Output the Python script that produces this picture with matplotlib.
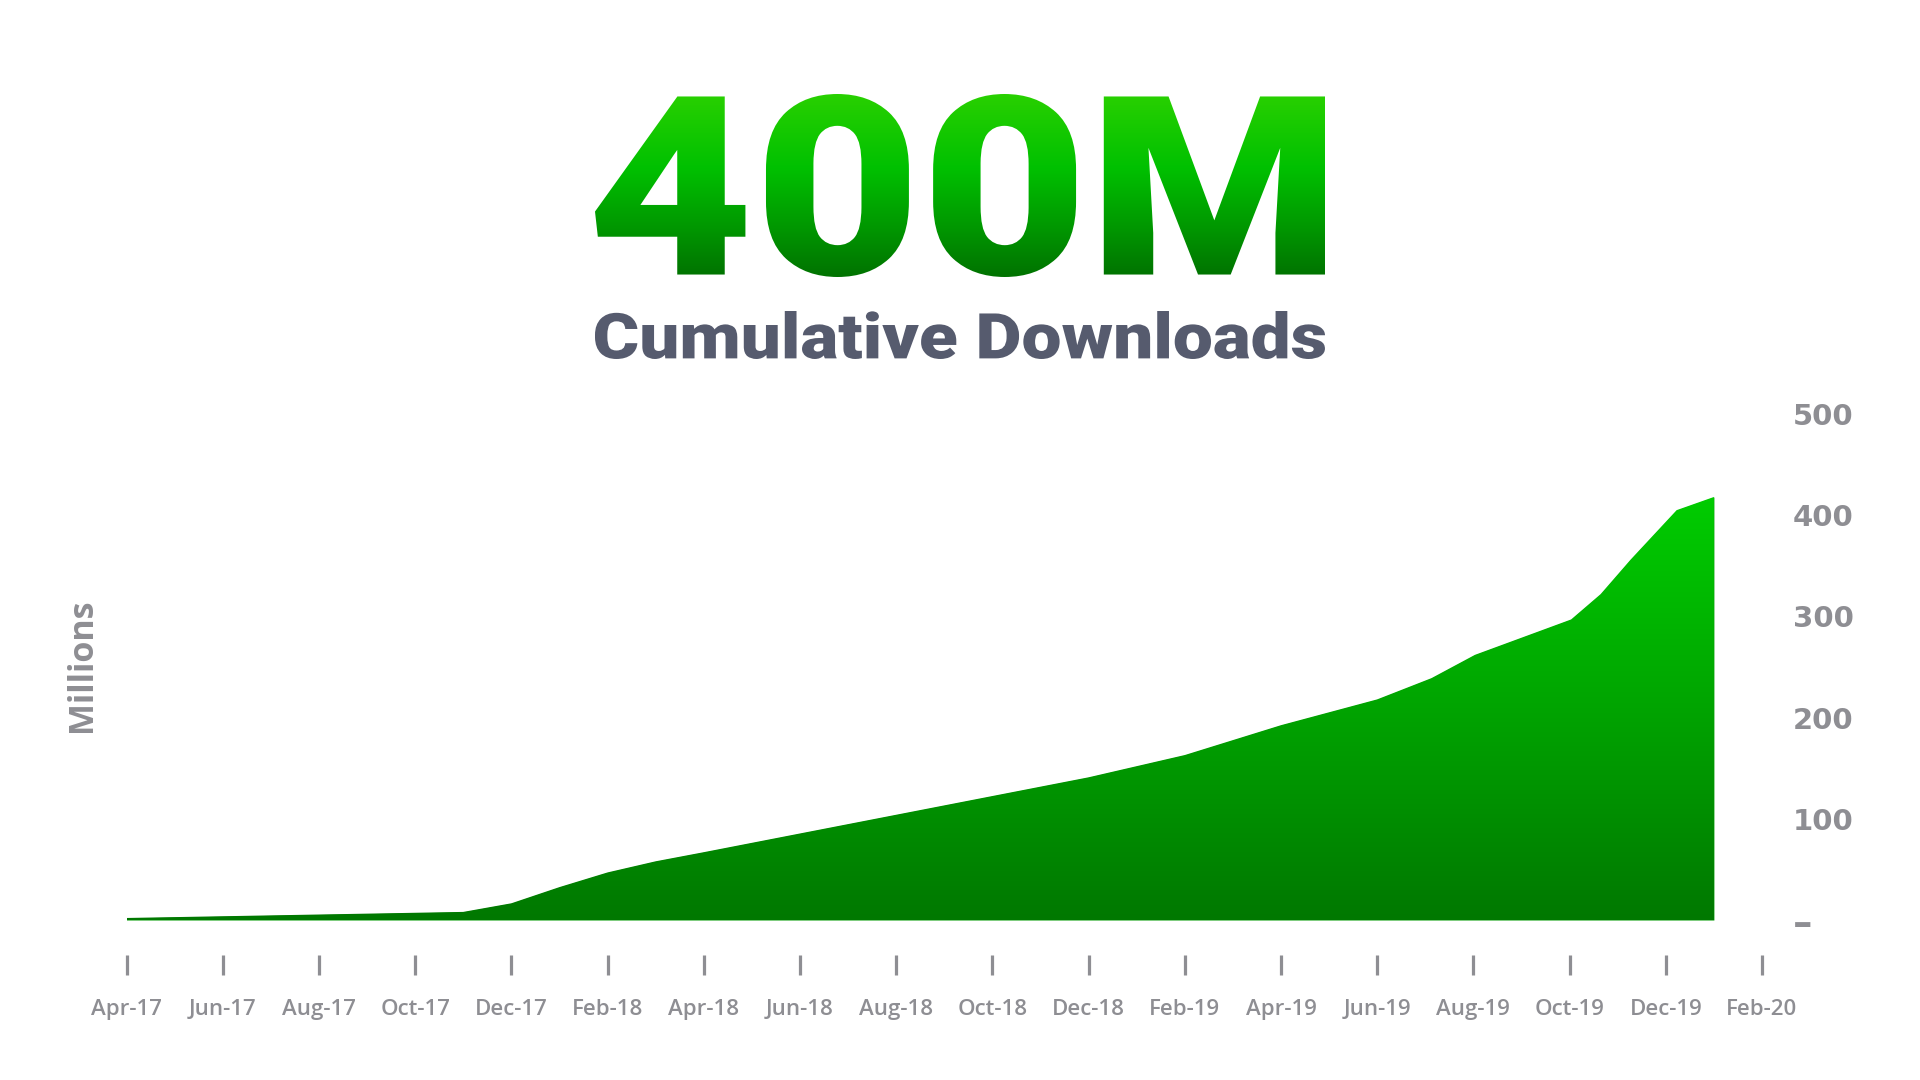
import numpy as np
import pandas as pd
import matplotlib
matplotlib.use("Agg")
import matplotlib.pyplot as plt
from matplotlib import patheffects
from matplotlib.colors import LinearSegmentedColormap
from matplotlib.font_manager import FontProperties
from matplotlib.transforms import Affine2D, Bbox

# data (millions of cumulative downloads)
dates = ["2017-04-01", "2017-11-01", "2017-12-01", "2018-01-01", "2018-02-01",
         "2018-03-01", "2018-04-01", "2018-06-01", "2018-08-01", "2018-10-01",
         "2018-12-01", "2019-02-01", "2019-04-01", "2019-06-01", "2019-07-05",
         "2019-08-02", "2019-10-02", "2019-10-21", "2019-11-09", "2019-12-08",
         "2020-01-01"]
downloads = [2, 8, 16.5, 32.5, 47, 58, 67, 85.5, 104, 122.5, 141, 163, 192.5,
             218, 239, 262, 297, 322, 356, 405, 418]

month_labels = ["Apr-17", "Jun-17", "Aug-17", "Oct-17", "Dec-17", "Feb-18",
                "Apr-18", "Jun-18", "Aug-18", "Oct-18", "Dec-18", "Feb-19",
                "Apr-19", "Jun-19", "Aug-19", "Oct-19", "Dec-19", "Feb-20"]
y_ticks = [0, 100, 200, 300, 400, 500]
y_tick_labels = ["\u2013", "100", "200", "300", "400", "500"]

headline = "400M"
subtitle = "Cumulative Downloads"
y_title = "Millions"

W, H, DPI = 1920, 1080, 100
GREY = "#8e8e93"
LABEL_FONT = ["Open Sans", "Lato", "DejaVu Sans"]
HEAVY_FONT = ["Roboto", "Lato", "Noto Sans", "DejaVu Sans"]

plt.rcParams["font.family"] = LABEL_FONT


class FitGradient(patheffects.AbstractPathEffect):
    """Map the ink of a text path onto a pixel box and paint it row by row
    with a vertical colour ramp."""

    def __init__(self, cmap, box):
        super().__init__()
        self.cmap = cmap
        self.x0, self.y0, self.x1, self.y1 = box

    def draw_path(self, renderer, gc, tpath, affine, rgbFace=None):
        ext = affine.transform_path(tpath).get_extents()
        fit = Affine2D().translate(-ext.x0, -ext.y0) \
            .scale((self.x1 - self.x0) / ext.width,
                   (self.y1 - self.y0) / ext.height) \
            .translate(self.x0, self.y0)
        aff = affine + fit
        for y in range(int(self.y0) - 3, int(self.y1) + 4):
            t = np.clip((y + 0.5 - self.y0) / (self.y1 - self.y0), 0, 1)
            gc0 = renderer.new_gc()
            gc0.copy_properties(gc)
            gc0.set_clip_rectangle(Bbox([[0, y], [W, y + 1]]))
            renderer.draw_path(gc0, tpath, aff, self.cmap(t)[:3])
            gc0.restore()


def fitted_text(fig, s, fp, x0, x1, top, bottom, cmap):
    # box in image pixels, top/bottom counted from the top edge
    box = (x0, H - bottom, x1, H - top)
    fp2 = fp.copy()
    fp2.set_size(0.9 * (bottom - top) / 1.17 * 72.0 / DPI)
    fig.text((x0 + x1) / 2 / W, 1 - (top + bottom) / 2 / H, s,
             fontproperties=fp2, color=cmap(0.5), ha="center", va="center",
             path_effects=[FitGradient(cmap, box)])


def month_index(d):
    d = pd.Timestamp(d)
    return (d.year - 2017) * 12 + d.month - 4 + (d.day - 1) / d.days_in_month


def main():
    months = np.array([month_index(d) for d in dates])
    values = np.array(downloads)

    fig = plt.figure(figsize=(W / DPI, H / DPI), dpi=DPI)
    fig.patch.set_facecolor("white")

    # headline + subtitle
    title_cmap = LinearSegmentedColormap.from_list(
        "title", [(0.0, "#007200"), (0.25, "#009400"), (0.6, "#00c000"),
                  (1.0, "#28d000")])
    sub_cmap = LinearSegmentedColormap.from_list("sub", ["#565b6e", "#565b6e"])
    heavy = FontProperties(family=HEAVY_FONT, weight="black")
    fitted_text(fig, headline, heavy, 595, 1325, 94, 277, title_cmap)
    fitted_text(fig, subtitle, heavy, 595, 1325, 311, 359, sub_cmap)

    # chart area
    ax = fig.add_axes([126.5 / W, (H - 920) / H, (1762 - 126.5) / W,
                       (920 - 414) / H])
    poly = ax.fill_between(months, values, 0, color="#009a00", lw=0,
                           zorder=1)
    area_cmap = LinearSegmentedColormap.from_list(
        "area", ["#007800", "#00a400", "#00cc00"])
    grad = np.linspace(0, 1, 256).reshape(-1, 1)
    im = ax.imshow(grad, extent=[0, 34, 0, values.max()], origin="lower",
                   aspect="auto", cmap=area_cmap, zorder=2,
                   interpolation="bilinear")
    im.set_clip_path(poly.get_paths()[0], transform=ax.transData)

    ax.set_xlim(0, 34)
    ax.set_ylim(0, 500)

    for sp in ax.spines.values():
        sp.set_visible(False)
    ax.spines["bottom"].set_position(("outward", 35 * 72.0 / DPI))

    ax.set_xticks(np.arange(0, 35, 2))
    ax.set_xticklabels(month_labels)
    ax.tick_params(axis="x", direction="out", length=20 * 72.0 / DPI,
                   width=3.2 * 72.0 / DPI, color=GREY, pad=17,
                   labelsize=16, labelcolor=GREY)
    for lbl in ax.get_xticklabels():
        lbl.set_fontweight("semibold")

    ax.yaxis.tick_right()
    ax.set_yticks(y_ticks)
    ax.set_yticklabels(y_tick_labels)
    ax.tick_params(axis="y", length=0, pad=31 * 72.0 / DPI, labelsize=21,
                   labelcolor=GREY)
    for lbl in ax.get_yticklabels():
        lbl.set_family(["DejaVu Sans"])
        lbl.set_fontweight("bold")
    ax.get_yticklabels()[0].set_fontsize(28)

    fig.text(82 / W, 1 - 665 / H, y_title, rotation=90, ha="center",
             va="center", fontsize=24.5, color=GREY, fontweight="bold")

    fig.savefig("out.png", dpi=DPI, facecolor="white")


if __name__ == "__main__":
    main()
